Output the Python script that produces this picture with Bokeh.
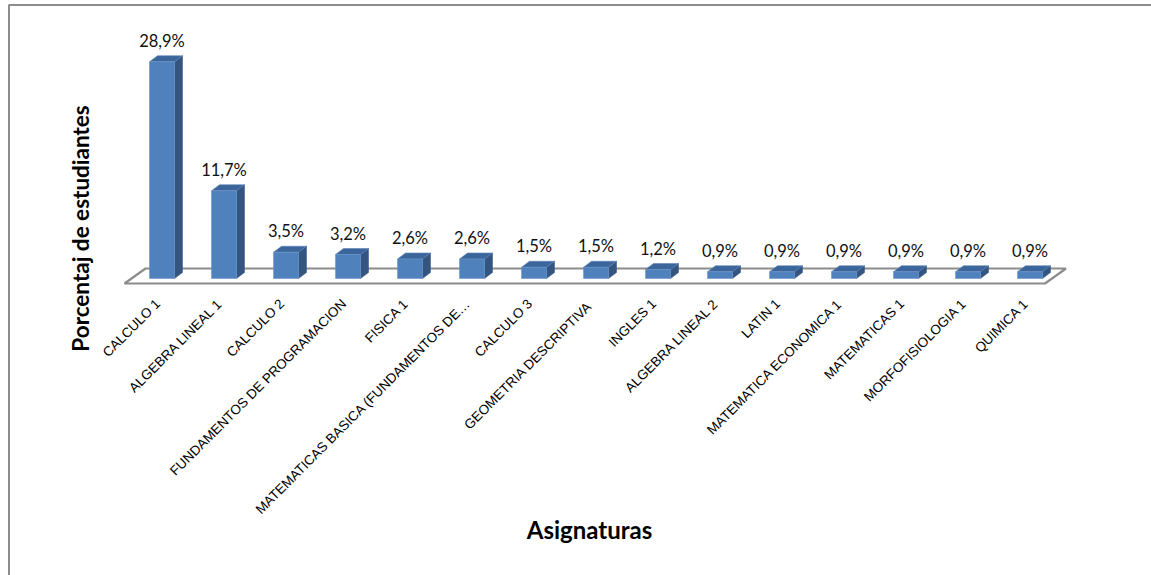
import math

from bokeh.core.properties import value
from bokeh.embed import file_html
from bokeh.models import ColumnDataSource, Range1d
from bokeh.plotting import figure
from bokeh.resources import INLINE

# ---- data ---------------------------------------------------------------
categories = [
    "CALCULO 1",
    "ALGEBRA LINEAL 1",
    "CALCULO 2",
    "FUNDAMENTOS DE PROGRAMACION",
    "FISICA 1",
    "MATEMATICAS BASICA (FUNDAMENTOS DE\u2026",
    "CALCULO 3",
    "GEOMETRIA  DESCRIPTIVA",
    "INGLES 1",
    "ALGEBRA LINEAL 2",
    "LATIN 1",
    "MATEMATICA ECONOMICA 1",
    "MATEMATICAS 1",
    "MORFOFISIOLOGIA 1",
    "QUIMICA 1",
]
percentages = [28.9, 11.7, 3.5, 3.2, 2.6, 2.6, 1.5, 1.5, 1.2, 0.9, 0.9, 0.9, 0.9, 0.9, 0.9]

y_title = "Porcentaj de estudiantes"
x_title = "Asignaturas"

# ---- layout -------------------------------------------------------------
W, H = 1151, 575
PX_PER_CAT = 62.0      # horizontal pixels per category slot
PX_PER_PCT = 7.5       # vertical pixels per percentage point
X0_PX = 161.5          # pixel x of first category centre
Y0_PX = 278.0          # pixel y of the zero line


def dx(px):
    """pixel offset -> category units"""
    return px / PX_PER_CAT


def dy(px):
    """pixel offset -> percentage units (upwards)"""
    return px / PX_PER_PCT


def at_x(px):
    return (px - X0_PX) / PX_PER_CAT


def at_y(py):
    return (Y0_PX - py) / PX_PER_PCT


p = figure(
    width=W, height=H,
    x_range=Range1d(at_x(0), at_x(W)),
    y_range=Range1d(at_y(H), at_y(0)),
    x_axis_location=None, y_axis_location=None,
    toolbar_location=None, output_backend="svg",
    min_border=0,
)
p.grid.visible = False
p.outline_line_color = None
p.background_fill_color = "white"
p.border_fill_color = "white"

# chart-area border (top and left edges)
p.line([at_x(8.5), at_x(8.5), at_x(W + 5)], [at_y(H + 5), at_y(4.5), at_y(4.5)],
       line_color="#8c8c8c", line_width=2)

n = len(categories)
xs = list(range(n))

# ---- 3-D floor ------------------------------------------------------------
HALF = dx(12.5)                 # half width of the bar front face
BAR_DX, BAR_DY = dx(8), dy(6)   # bar depth offsets
FLOOR_DX, FLOOR_DY = dx(21), dy(15)
floor_front = -dy(5)
floor_left = -0.5 - dx(6.5)
floor_right = (n - 1) + 0.5 - dx(16)
p.patch(
    [floor_left, floor_right, floor_right + FLOOR_DX, floor_left + FLOOR_DX],
    [floor_front, floor_front, floor_front + FLOOR_DY, floor_front + FLOOR_DY],
    fill_color="white", line_color="#8c8c8c", line_width=2.2,
)

# ---- bars -----------------------------------------------------------------
side_x, side_y, top_x, top_y = [], [], [], []
for x, v in zip(xs, percentages):
    r = x + HALF
    l = x - HALF
    side_x.append([r, r + BAR_DX, r + BAR_DX, r])
    side_y.append([0, BAR_DY, v + BAR_DY, v])
    top_x.append([l, r, r + BAR_DX, l + BAR_DX])
    top_y.append([v, v, v + BAR_DY, v + BAR_DY])

p.patches(side_x, side_y, fill_color="#34557f", line_color="#3d5f8e", line_width=0.6)
p.patches(top_x, top_y, fill_color="#3c659b", line_color="#5b84b8", line_width=0.6)

src = ColumnDataSource(dict(
    x=xs,
    top=percentages,
    label=[f"{v:.1f}%".replace(".", ",") for v in percentages],
    label_y=[v + BAR_DY + dy(15) for v in percentages],
    cat=categories,
    cat_x=[x - dx(4) for x in xs],
))
p.vbar(x="x", top="top", bottom=0, width=2 * HALF, source=src,
       fill_color="#4f81bd", line_color="#6b95c8", line_width=0.6)

# value labels
p.text(x="x", y="label_y", text="label", source=src,
       text_font=value("Lato"), text_font_size="16.5px", text_color="#111111",
       text_align="center", text_baseline="alphabetic")

# category labels, rotated 45 degrees and right-aligned under each bar
p.text(x="cat_x", y=-dy(23), text="cat", source=src, angle=math.pi / 4,
       text_font=value("Liberation Sans"), text_font_size="13.5px",
       text_color="#000000", text_align="right", text_baseline="middle")

# axis titles
p.text(x=[at_x(79.5)], y=[at_y(228)], text=[y_title], angle=math.pi / 2,
       text_font=value("Lato"), text_font_style="bold", text_font_size="22.5px",
       text_color="#000000", text_align="center", text_baseline="middle")
p.text(x=[at_x(589)], y=[at_y(529)], text=[x_title],
       text_font=value("Lato"), text_font_style="bold", text_font_size="24px",
       text_color="#000000", text_align="center", text_baseline="middle")

open("out.html", "w").write(file_html(p, INLINE))
